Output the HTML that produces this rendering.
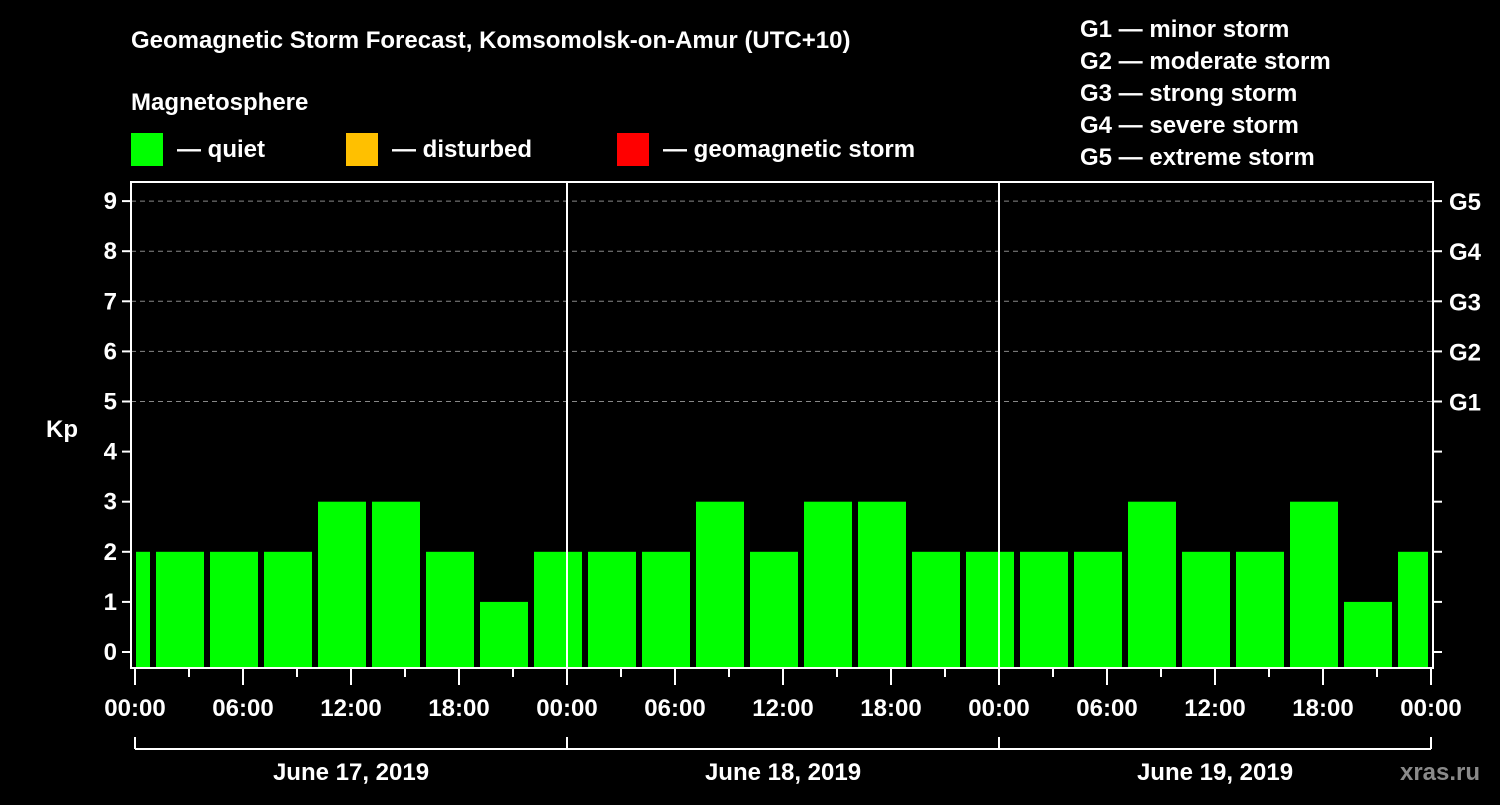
<!DOCTYPE html>
<html><head><meta charset="utf-8"><style>
body{margin:0;background:#000;width:1500px;height:800px;overflow:hidden}
svg text{font-family:"Liberation Sans",Arial,sans-serif;font-weight:bold;fill:#fff}
</style></head><body>
<svg id="c" width="1500" height="800">
<text x="131" y="48" font-size="24">Geomagnetic Storm Forecast, Komsomolsk-on-Amur (UTC+10)</text>
<text x="131" y="110" font-size="24">Magnetosphere</text>
<rect x="131" y="133" width="32" height="33" fill="#00ff00"/>
<text x="177" y="157" font-size="24">— quiet</text>
<rect x="346" y="133" width="32" height="33" fill="#ffc000"/>
<text x="392" y="157" font-size="24">— disturbed</text>
<rect x="617" y="133" width="32" height="33" fill="#ff0000"/>
<text x="663" y="157" font-size="24">— geomagnetic storm</text>
<g font-size="24">
<text x="1080" y="37">G1 — minor storm</text>
<text x="1080" y="69">G2 — moderate storm</text>
<text x="1080" y="101">G3 — strong storm</text>
<text x="1080" y="133">G4 — severe storm</text>
<text x="1080" y="165">G5 — extreme storm</text>
</g>
<text x="62" y="437" font-size="24" text-anchor="middle">Kp</text>
<text x="1440" y="780" font-size="24" text-anchor="middle" fill="#888" style="fill:#8a8a8a">xras.ru</text>
<g id="grid"></g><g id="bars"></g><g id="axes"></g>
</svg>
<script>
const kpValues=[2,2,2,2,3,3,2,1,2,2,2,3,2,3,3,2,2,2,2,3,2,2,3,1,2];
const yTicks=[0,1,2,3,4,5,6,7,8,9];
const gLabels=["G1","G2","G3","G4","G5"];
const xLabels=["00:00","06:00","12:00","18:00","00:00","06:00","12:00","18:00","00:00","06:00","12:00","18:00","00:00"];
const days=["June 17, 2019","June 18, 2019","June 19, 2019"];
const NS="http://www.w3.org/2000/svg";
const x0=135,hourPx=18,y0=652,unit=50.1,L=131,T=182,R=1433,B=668;
const xs=h=>x0+h*hourPx, ys=v=>y0-v*unit;
function mk(p,tag,a){const e=document.createElementNS(NS,tag);for(const k in a)e.setAttribute(k,a[k]);p.appendChild(e);return e;}
const grid=document.getElementById('grid'),bars=document.getElementById('bars'),axes=document.getElementById('axes');
yTicks.forEach(v=>{
 if(v>=5){const l=mk(grid,'line',{x1:L,x2:R,y1:ys(v),y2:ys(v),stroke:'#888','stroke-dasharray':'5 4'});
 }
 const t=mk(axes,'line',{x1:L-9,x2:L,y1:ys(v),y2:ys(v),stroke:'#fff','stroke-width':2});
 
 const t2=mk(axes,'line',{x1:R,x2:R+9,y1:ys(v),y2:ys(v),stroke:'#fff','stroke-width':2});
 
 const tx=mk(axes,'text',{x:L-14,y:ys(v)+8,'font-size':24,'text-anchor':'end'});tx.textContent=v;
 
 if(v>=5){const g=mk(axes,'text',{x:R+16,y:ys(v)+9,'font-size':24});g.textContent=gLabels[v-5];
 }
});
kpValues.forEach((v,i)=>{
 let a=xs(-2+3*i)+3,b=xs(1+3*i)-3;a=Math.max(a,136);b=Math.min(b,1428);
 const r=mk(bars,'rect',{x:a,y:ys(v),width:b-a,height:B-1-ys(v),fill:'#00ff00'});
 
});
[1,2].forEach(d=>{const l=mk(axes,'line',{x1:xs(24*d),x2:xs(24*d),y1:T,y2:B,stroke:'#fff','stroke-width':2});
 });
const f=mk(axes,'rect',{x:L,y:T,width:R-L,height:B-T,fill:'none',stroke:'#fff','stroke-width':2});

for(let h=0;h<=72;h+=3){const big=h%6===0;
 const t=mk(axes,'line',{x1:xs(h),x2:xs(h),y1:B,y2:B+(big?17:9),stroke:'#fff','stroke-width':2});
 }
xLabels.forEach((s,i)=>{const t=mk(axes,'text',{x:xs(6*i),y:716,'font-size':24,'text-anchor':'middle'});t.textContent=s;
 });
const br=mk(axes,'line',{x1:xs(0),x2:xs(72),y1:749,y2:749,stroke:'#fff','stroke-width':2});

for(let d=0;d<=3;d++){const l=mk(axes,'line',{x1:xs(24*d),x2:xs(24*d),y1:737,y2:749,stroke:'#fff','stroke-width':2});
 }
days.forEach((s,i)=>{const t=mk(axes,'text',{x:xs(24*i+12),y:780,'font-size':24,'text-anchor':'middle'});t.textContent=s;
 });
</script>
</body></html>
